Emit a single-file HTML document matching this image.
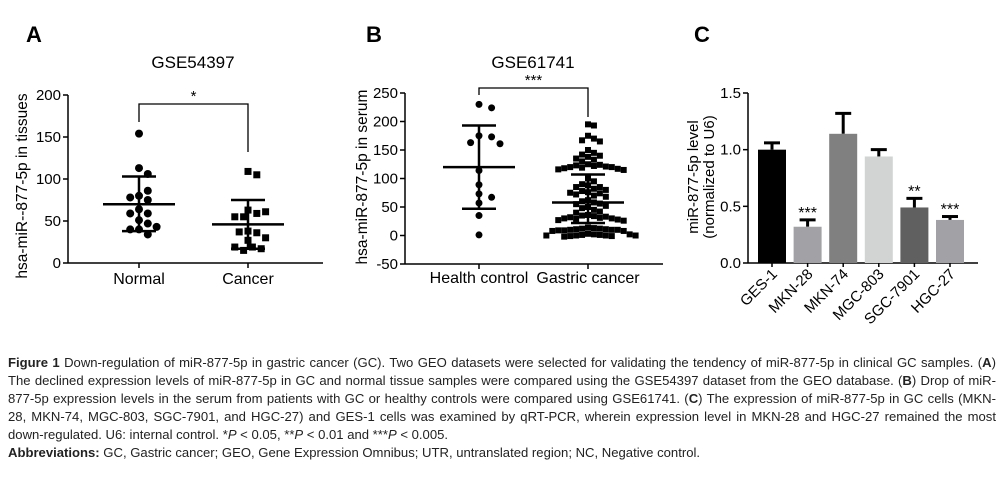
<!DOCTYPE html>
<html><head><meta charset="utf-8"><style>
body{margin:0;background:#fff;width:1003px;height:487px;overflow:hidden;position:relative;font-family:"Liberation Sans",sans-serif}
svg{position:absolute;left:0;top:0}
.cap{position:absolute;left:8px;top:354px;width:988px;font-size:13.1px;line-height:18px;color:#222;text-align:justify}
.cap p{margin:0}
</style></head><body>
<svg id="fig" width="1003" height="330" xmlns="http://www.w3.org/2000/svg" font-family="Liberation Sans, sans-serif"></svg>
<div class="cap">
<p><b>Figure 1</b> Down-regulation of miR-877-5p in gastric cancer (GC). Two GEO datasets were selected for validating the tendency of miR-877-5p in clinical GC samples. (<b>A</b>) The declined expression levels of miR-877-5p in GC and normal tissue samples were compared using the GSE54397 dataset from the GEO database. (<b>B</b>) Drop of miR-877-5p expression levels in the serum from patients with GC or healthy controls were compared using GSE61741. (<b>C</b>) The expression of miR-877-5p in GC cells (MKN-28, MKN-74, MGC-803, SGC-7901, and HGC-27) and GES-1 cells was examined by qRT-PCR, wherein expression level in MKN-28 and HGC-27 remained the most down-regulated. U6: internal control. *<i>P</i> &lt; 0.05, **<i>P</i> &lt; 0.01 and ***<i>P</i> &lt; 0.005.</p>
<p><b>Abbreviations:</b> GC, Gastric cancer; GEO, Gene Expression Omnibus; UTR, untranslated region; NC, Negative control.</p>
</div>
<script>
// Panel A data
const aNormal=[154,113,106,80,75,78,86,64,59,59,51,47,40,40,43,34];
const aCancer=[109,105,63,59,55,55,61,38,36,37,30,27,19,15,17,19];
const aMean=[70,46], aSDHi=[103,75], aSDLo=[38,17];
const aTicks=[0,50,100,150,200];
// Panel B data
const bHealth=[230,224,175,173,163,161,114,89,73,67,57,35,1];
const bGastric=[195,193,175,170,167,165,150,145,142,140,138,135,133,130,125,124,123,122,121,120,120,119,118,117,116,115,100,95,90,88,85,85,82,80,78,76,75,74,72,70,68,62,60,58,56,55,52,50,48,45,42,40,36,35,34,33,32,31,30,30,29,28,27,26,14,13,12,12,11,11,10,10,10,9,9,8,8,3,2,2,1,1,0,0,0,0,-1,-1,-2];
const bMean=[120,58], bSDHi=[193,107], bSDLo=[47,22];
const bTicks=[-50,0,50,100,150,200,250];
// Panel C data
const cCats=["GES-1","MKN-28","MKN-74","MGC-803","SGC-7901","HGC-27"];
const cVals=[1.0,0.32,1.14,0.94,0.49,0.38];
const cErr=[0.06,0.06,0.18,0.06,0.08,0.03];
const cStars=["","***","","","**","***"];
const cColors=["#000","#a2a2a6","#808080","#d2d4d4","#606060","#a2a2a6"];
const cTicks=[0,0.5,1.0,1.5];

const NS="http://www.w3.org/2000/svg", svg=document.getElementById('fig');
function el(t,a,p){const e=document.createElementNS(NS,t);for(const k in a)e.setAttribute(k,a[k]);(p||svg).appendChild(e);return e;}
function txt(s,a,p){const e=el('text',a,p);e.textContent=s;return e;}

function swarm(vals,cx,ys,d,step){const placed=[];const out=[];
  vals.forEach(v=>{const y=ys(v);let k=0,x=cx;
    while(true){const off=(k%2?1:-1)*Math.ceil(k/2)*step;x=cx+off;
      if(placed.every(p=>Math.hypot(p[0]-x,p[1]-y)>=d))break;k++;}
    placed.push([x,y]);out.push([x,y]);});return out;}

function scatterPanel(o){
  const g=el('g',{});
  const ys=v=>o.y0-(v-o.vmin)/(o.vmax-o.vmin)*(o.y0-o.y1);
  let t=txt(o.letter,{x:o.lx,y:42,'font-size':22,'font-weight':'bold'},g);
  t=txt(o.title,{x:o.tx,y:68,'font-size':17,'text-anchor':'middle'},g);
  t=txt(o.ylab,{x:0,y:0,'font-size':15.5,'text-anchor':'middle',transform:`translate(${o.ylx},${o.yly}) rotate(-90)`},g);
  el('line',{x1:o.ax,y1:o.y1,x2:o.ax,y2:ys(o.ticks[0]),stroke:'#000','stroke-width':1.5},g);
  el('line',{x1:o.ax,y1:ys(o.ticks[0]),x2:o.axEnd,y2:ys(o.ticks[0]),stroke:'#000','stroke-width':1.5},g);
  o.ticks.forEach(v=>{el('line',{x1:o.ax-5,y1:ys(v),x2:o.ax,y2:ys(v),stroke:'#000','stroke-width':1.5},g);
    const tt=txt(String(v),{x:o.ax-7,y:ys(v)+5,'font-size':15,'text-anchor':'end'},g);});
  o.groups.forEach((gr,i)=>{const cx=o.xs[i];
    el('line',{x1:cx,y1:ys(o.ticks[0]),x2:cx,y2:ys(o.ticks[0])+5,stroke:'#000','stroke-width':1.5},g);
    const lt=txt(o.cats[i],{x:cx,y:o.catY,'font-size':16,'text-anchor':'middle'},g);
    const pts=swarm(gr,cx,ys,o.sz*o.ov[i],o.sz*o.st[i]);
    pts.forEach(p=>{let m;if(i===0)m=el('circle',{cx:p[0],cy:p[1],r:o.sz/2,fill:'#000'},g);
      else m=el('rect',{x:p[0]-o.sz/2+0.5,y:p[1]-o.sz/2+0.5,width:o.sz-1,height:o.sz-1,fill:'#000'},g);
      });
    el('line',{x1:cx-o.mw,y1:ys(o.mean[i]),x2:cx+o.mw,y2:ys(o.mean[i]),stroke:'#000','stroke-width':2.5},g);
    el('line',{x1:cx,y1:ys(o.hi[i]),x2:cx,y2:ys(o.lo[i]),stroke:'#000','stroke-width':2.5},g);
    [o.hi[i],o.lo[i]].forEach(v=>el('line',{x1:cx-o.cw,y1:ys(v),x2:cx+o.cw,y2:ys(v),stroke:'#000','stroke-width':2.5},g));
  });
  const b=o.br;el('polyline',{points:`${o.xs[0]},${b[1]} ${o.xs[0]},${b[0]} ${o.xs[1]},${b[0]} ${o.xs[1]},${b[2]}`,fill:'none',stroke:'#000','stroke-width':1.3},g);
  t=txt(o.star,{x:(o.xs[0]+o.xs[1])/2,y:b[0]-3,'font-size':15,'text-anchor':'middle'},g);
}
scatterPanel({name:'panel-a-scatter',letter:'A',lx:26,title:'GSE54397',tx:193,ylab:'hsa-miR--877-5p in tissues',ylx:27,yly:186,
  ax:68,axEnd:323,y0:263,y1:95,vmin:0,vmax:200,ticks:aTicks,xs:[139,248],cats:['Normal','Cancer'],catY:284,
  groups:[aNormal,aCancer],mean:aMean,hi:aSDHi,lo:aSDLo,mw:36,cw:17,sz:8,ov:[1,1],st:[0.55,0.55],br:[104,122,152],star:'*'});
scatterPanel({name:'panel-b-scatter',letter:'B',lx:366,title:'GSE61741',tx:533,ylab:'hsa-miR-877-5p in serum',ylx:367,yly:177,
  ax:405,axEnd:663,y0:264,y1:93,vmin:-50,vmax:250,ticks:bTicks,xs:[479,588],cats:['Health control','Gastric cancer'],catY:283,
  groups:[bHealth,bGastric],mean:bMean,hi:bSDHi,lo:bSDLo,mw:36,cw:17,sz:7,ov:[1.3,0.85],st:[0.6,0.85],br:[88,95,117],star:'***'});

// Panel C
(function(){
  const g=el('g',{});
  const ax=748,axEnd=978,y0=263,y1=93,vmax=1.5;const ys=v=>y0-v/vmax*(y0-y1);
  const xs=i=>772+i*35.6,bw=28;
  let t=txt('C',{x:694,y:42,'font-size':22,'font-weight':'bold'},g);
  t=txt('miR-877-5p level',{x:0,y:0,'font-size':15,'text-anchor':'middle',transform:'translate(698,177) rotate(-90)'},g);
  t=txt('(normalized to U6)',{x:0,y:0,'font-size':15,'text-anchor':'middle',transform:'translate(714,177) rotate(-90)'},g);
  el('line',{x1:ax,y1:y1,x2:ax,y2:y0,stroke:'#000','stroke-width':1.5},g);
  el('line',{x1:ax,y1:y0,x2:axEnd,y2:y0,stroke:'#000','stroke-width':1.5},g);
  cTicks.forEach(v=>{el('line',{x1:ax-5,y1:ys(v),x2:ax,y2:ys(v),stroke:'#000','stroke-width':1.5},g);
    const tt=txt(v.toFixed(1),{x:ax-7,y:ys(v)+5,'font-size':15,'text-anchor':'end'},g);});
  cCats.forEach((c,i)=>{const cx=xs(i);
    const top=ys(cVals[i]+cErr[i]);
    el('line',{x1:cx,y1:ys(cVals[i]),x2:cx,y2:top,stroke:'#000','stroke-width':3},g);
    el('line',{x1:cx-8,y1:top,x2:cx+8,y2:top,stroke:'#000','stroke-width':3},g);
    const r=el('rect',{x:cx-bw/2,y:ys(cVals[i]),width:bw,height:y0-ys(cVals[i]),fill:cColors[i]},g);
    
    if(cStars[i]){const s=txt(cStars[i],{x:cx,y:top-2,'font-size':16,'text-anchor':'middle'},g);}
    el('line',{x1:cx,y1:y0,x2:cx,y2:y0+4,stroke:'#000','stroke-width':1.5},g);
    const l=txt(c,{x:0,y:0,'font-size':15,'text-anchor':'end',transform:`translate(${cx+6},${y0+12}) rotate(-45)`},g);
  });
})();
</script>
</body></html>
